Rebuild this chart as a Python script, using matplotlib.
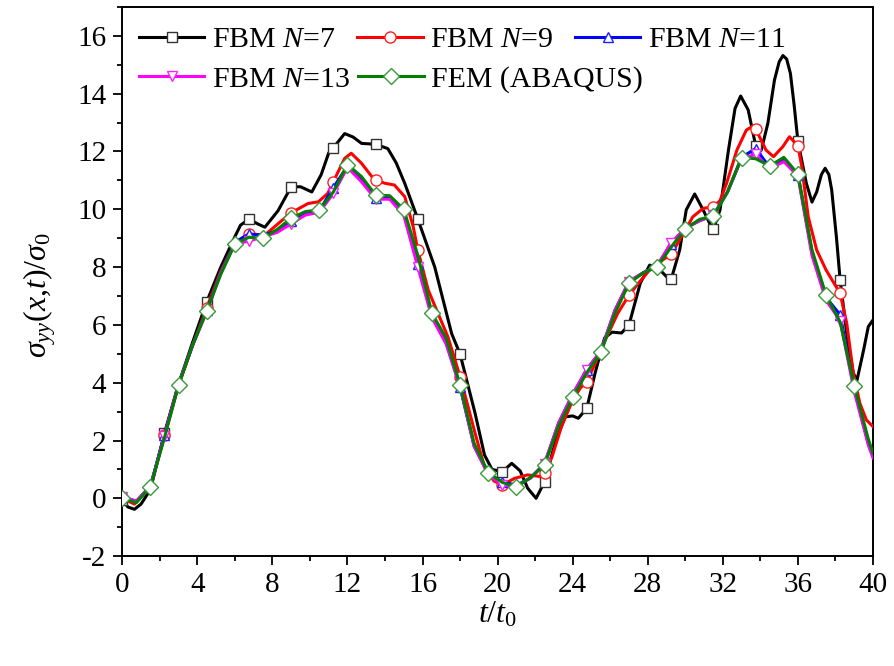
import numpy as np
import matplotlib
matplotlib.use("Agg")
import matplotlib.pyplot as plt
from matplotlib.ticker import MultipleLocator

plt.rcParams["font.family"] = ["Liberation Serif", "DejaVu Serif"]
plt.rcParams["mathtext.fontset"] = "custom"
plt.rcParams["mathtext.rm"] = "Liberation Serif"
plt.rcParams["mathtext.it"] = "Liberation Serif:italic"
plt.rcParams["mathtext.bf"] = "Liberation Serif:bold"
plt.rcParams["axes.unicode_minus"] = False

# ---- data -------------------------------------------------------------
t_n7 = [0.0, 0.3, 0.65, 1.0, 1.5, 2.25, 3.0, 3.75, 4.5, 5.25, 6.0, 6.3, 6.75,
        7.2, 7.6, 8.3, 9.0, 9.5, 10.1, 10.6, 11.0, 11.25, 11.85, 12.3, 12.75,
        13.5, 14.15, 14.6, 15.05, 15.75, 16.65, 17.55, 18.0, 18.8, 19.3, 19.7,
        20.25, 20.75, 21.2, 21.6, 22.05, 22.5, 23.1, 23.6, 24.0, 24.3, 24.75,
        25.2, 25.7, 26.1, 26.6, 27.0, 27.6, 28.1, 28.65, 29.0, 29.25, 29.7,
        30.05, 30.5, 30.95, 31.3, 31.5, 31.85, 32.3, 32.65, 32.95, 33.35,
        33.75, 34.05, 34.4, 34.75, 35.0, 35.2, 35.4, 35.6, 35.8, 36.0, 36.45,
        36.75, 37.0, 37.25, 37.45, 37.65, 37.8, 38.05, 38.25, 38.6, 38.95,
        39.15, 39.5, 39.75, 40.0]
s_n7 = [-0.05, -0.3, -0.38, -0.2, 0.3, 2.25, 3.95, 5.4, 6.8, 8.0, 9.05, 9.45,
        9.66, 9.5, 9.38, 9.95, 10.78, 10.78, 10.6, 11.2, 11.95, 12.13, 12.62,
        12.5, 12.28, 12.25, 12.1, 11.6, 10.9, 9.66, 8.0, 5.7, 4.99, 2.94, 1.5,
        1.0, 0.92, 1.21, 0.95, 0.35, 0.0, 0.57, 2.0, 2.82, 2.85, 2.77, 3.11,
        4.35, 5.55, 5.75, 5.72, 6.0, 7.44, 8.07, 7.9, 7.67, 7.58, 8.59, 9.98,
        10.53, 9.98, 9.51, 9.32, 9.98, 12.05, 13.49, 13.92, 13.44, 12.2,
        12.05, 12.98, 14.47, 15.1, 15.32, 15.2, 14.7, 13.6, 12.35, 10.9,
        10.25, 10.6, 11.2, 11.42, 11.2, 10.67, 9.05, 7.55, 5.71, 4.33, 4.09,
        5.13, 5.94, 6.17]

t_n9 = [0.0, 0.65, 1.5, 2.25, 3.0, 3.75, 4.5, 5.25, 6.0, 6.75, 7.6, 8.3, 9.0,
        9.9, 10.45, 10.95, 11.25, 11.85, 12.2, 12.75, 13.3, 13.5, 14.0, 14.5,
        15.05, 15.5, 15.75, 16.3, 16.9, 17.35, 18.0, 18.8, 19.3, 19.8, 20.25,
        20.9, 21.6, 22.3, 22.5, 22.9, 23.4, 24.0, 24.4, 24.75, 25.2, 25.75,
        26.4, 27.0, 27.5, 28.1, 28.8, 29.25, 29.7, 30.4, 30.95, 31.5, 31.85,
        32.2, 32.75, 33.25, 33.55, 33.75, 34.3, 34.7, 35.2, 35.55, 36.0, 36.2,
        36.55, 37.0, 37.5, 38.25, 38.6, 38.95, 39.3, 39.65, 40.0]
s_n9 = [0.0, -0.2, 0.38, 2.2, 3.9, 5.3, 6.6, 7.85, 8.85, 9.15, 9.11, 9.5, 9.88,
        10.2, 10.26, 10.55, 10.96, 11.76, 11.94, 11.59, 11.13, 11.01, 10.9,
        10.84, 10.44, 9.4, 8.59, 7.21, 6.28, 5.59, 4.21, 2.25, 1.09, 0.6,
        0.46, 0.69, 0.81, 0.75, 0.87, 1.44, 2.48, 3.4, 3.81, 4.03, 4.67, 5.5,
        6.4, 7.03, 7.44, 7.9, 8.25, 8.45, 8.94, 9.74, 10.03, 10.09, 10.3,
        10.9, 12.05, 12.74, 12.86, 12.78, 12.05, 11.82, 12.17, 12.51, 12.2,
        11.5, 9.74, 8.59, 7.9, 7.09, 6.06, 4.33, 3.29, 2.71, 2.48]

t_grid = [0.0, 0.75, 1.5, 2.25, 3.0, 3.75, 4.5, 5.25, 6.0, 6.75, 7.5, 8.25,
          9.0, 9.75, 10.5, 11.25, 12.0, 12.75, 13.5, 14.25, 15.0, 15.75,
          16.5, 17.25, 18.0, 18.75, 19.5, 20.25, 21.0, 21.75, 22.5, 23.25,
          24.0, 24.75, 25.5, 26.25, 27.0, 27.75, 28.5, 29.25, 30.0, 30.75,
          31.5, 32.25, 33.0, 33.75, 34.5, 35.25, 36.0, 36.75, 37.5, 38.25,
          39.0, 39.75, 40.0]
s_n11 = [0.05, -0.1, 0.42, 2.2, 3.95, 5.3, 6.5, 7.8, 8.85, 9.15, 9.1, 9.25,
         9.6, 9.85, 9.95, 10.75, 11.5, 11.0, 10.4, 10.4, 9.85, 8.1, 6.3, 5.4,
         3.86, 1.8, 0.85, 0.57, 0.45, 0.7, 1.2, 2.6, 3.6, 4.45, 5.1, 6.5,
         7.5, 7.8, 8.05, 8.8, 9.35, 9.6, 9.8, 10.6, 11.8, 12.1, 11.45, 11.7,
         11.2, 8.5, 6.95, 6.35, 3.8, 1.9, 1.45]
s_n13 = [0.05, -0.1, 0.42, 2.15, 3.95, 5.3, 6.45, 7.8, 8.8, 8.9, 9.05, 9.2,
         9.5, 9.8, 9.9, 10.55, 11.45, 10.95, 10.35, 10.35, 9.8, 8.0, 6.25,
         5.35, 3.86, 1.8, 0.82, 0.46, 0.42, 0.7, 1.2, 2.6, 3.6, 4.45, 5.1,
         6.5, 7.5, 7.8, 8.05, 8.85, 9.35, 9.6, 9.8, 10.6, 11.75, 11.9, 11.4,
         11.65, 11.15, 8.4, 6.85, 6.15, 3.7, 1.85, 1.4]
s_fem = [0.0, -0.15, 0.40, 2.1, 3.92, 5.3, 6.49, 7.75, 8.80, 9.03, 9.0, 9.3,
         9.69, 9.92, 9.98, 10.6, 11.55, 11.13, 10.49, 10.47, 10.0, 8.4, 6.40,
         5.55, 3.92, 1.9, 0.89, 0.55, 0.40, 0.72, 1.15, 2.5, 3.49, 4.35,
         5.05, 6.4, 7.44, 7.8, 8.01, 8.7, 9.32, 9.65, 9.77, 10.6, 11.79,
         11.75, 11.5, 11.8, 11.22, 8.6, 7.03, 6.1, 3.89, 2.05, 1.56]

labels = ["FBM $N$=7", "FBM $N$=9", "FBM $N$=11", "FBM $N$=13", "FEM (ABAQUS)"]
x_ticks = [0, 4, 8, 12, 16, 20, 24, 28, 32, 36, 40]
y_ticks = [-2, 0, 2, 4, 6, 8, 10, 12, 14, 16]


def marks(t, step):
    t = np.asarray(t)
    r = np.mod(t + 1e-9, step)
    return list(np.where((r < 1e-6) | (np.abs(r - step) < 1e-6))[0])


fig = plt.figure(figsize=(8.95, 6.66), dpi=100)
ax = fig.add_axes([0.1366, 0.165, 0.8388, 0.8245])

lw = 2.2
h7, = ax.plot(t_n7, s_n7, color="black", lw=lw, marker="s", ms=7,
              mfc="white", mec="#333333", mew=1.0,
              markevery=marks(t_n7, 2.25), zorder=2, label=labels[0])
h9, = ax.plot(t_n9, s_n9, color="#ff0000", lw=lw, marker="o", ms=8,
              mfc="white", mec="#ff2020", mew=1.0,
              markevery=marks(t_n9, 2.25), zorder=3, label=labels[1])
h11, = ax.plot(t_grid, s_n11, color="#0000ff", lw=lw, marker="^", ms=7.5,
               mfc="white", mec="#2020ff", mew=1.0,
               markevery=marks(t_grid, 2.25), zorder=4, label=labels[2])
h13, = ax.plot(t_grid, s_n13, color="#ff00ff", lw=lw, marker="v", ms=7.5,
               mfc="white", mec="#ff20ff", mew=1.0,
               markevery=marks(t_grid, 2.25), zorder=5, label=labels[3])
hf, = ax.plot(t_grid, s_fem, color="#008000", lw=lw, marker="D", ms=8.5,
              mfc="white", mec="#3a9a3a", mew=1.0,
              markevery=marks(t_grid, 1.5), zorder=6, label=labels[4])

ax.set_xlim(0, 40)
ax.set_ylim(-2, 17)
ax.set_xticks(x_ticks)
ax.set_yticks(y_ticks)
ax.xaxis.set_minor_locator(MultipleLocator(2))
ax.yaxis.set_minor_locator(MultipleLocator(1))
ax.tick_params(which="both", direction="out", top=False, right=False,
               width=1.3, labelsize=21, pad=5)
ax.tick_params(which="major", length=6.5)
ax.tick_params(which="minor", length=3.5)
for sp in ax.spines.values():
    sp.set_linewidth(1.4)

ax.set_xlabel(r"$t/t_0$", fontsize=23)
ax.set_ylabel(r"$\sigma_{yy}(x{,}t)/\sigma_0$", fontsize=23)
ax.xaxis.set_label_coords(0.5, -0.08)
ax.yaxis.set_label_coords(-0.085, 0.475)

common = dict(frameon=False, fontsize=21.5, handlelength=2.2,
              handletextpad=0.25, borderpad=0, borderaxespad=0,
              loc="center left")
leg1 = ax.legend(handles=[h7, h9, h11], ncol=3, columnspacing=0.72,
                 bbox_to_anchor=(0.022, 0.94), **common)
ax.add_artist(leg1)
ax.legend(handles=[h13, hf], ncol=2, columnspacing=0.27,
          bbox_to_anchor=(0.022, 0.868), **common)

fig.savefig("out.png", dpi=100)
